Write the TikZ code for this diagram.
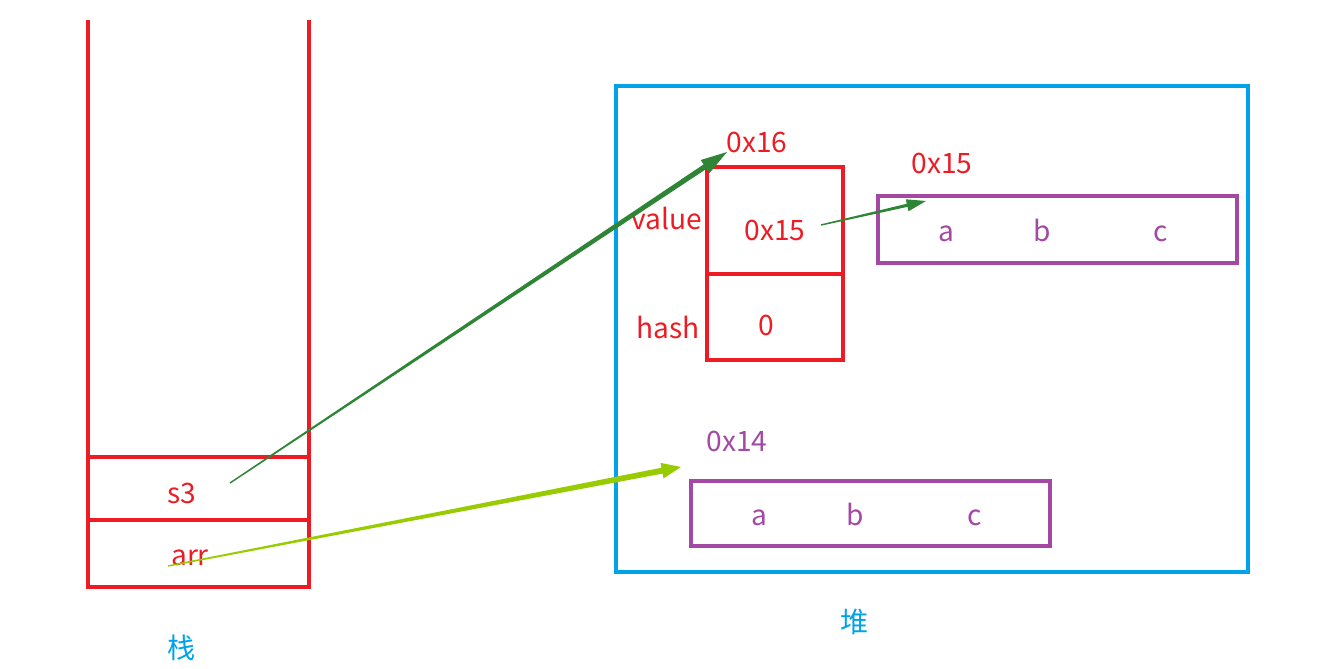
\documentclass[tikz,border=0pt]{standalone}
\usepackage{fontspec}
\setmainfont{Noto Sans CJK SC}
\usetikzlibrary{arrows.meta}
\usetikzlibrary{positioning}
\usetikzlibrary{calc}
\definecolor{stackred}{HTML}{ED1C24}
\definecolor{heapblue}{HTML}{00A2E8}
\definecolor{arrpurple}{HTML}{A349A4}
\definecolor{refgreen}{HTML}{2E8536}
\definecolor{litegreen}{HTML}{99CC00}
\tikzset{
  wall/.style={stackred, line width=2.3pt},
  lbl/.style={font=\fontsize{16}{18}\selectfont, inner sep=0pt, text height=11pt, text depth=3pt, yshift=-1.7pt}
}
% tapered reference arrow: colour, from, to, shaft half width, head length, head half width
\newcommand{\refarrow}[6]{
  \fill [#1] ($(#2)!0.4pt!90:(#3)$) -- ($($(#3)!#5!(#2)$)!#4!90:(#3)$) -- ($($(#3)!#5!(#2)$)!#6!90:(#3)$)
    -- (#3) -- ($($(#3)!#5!(#2)$)!#6!-90:(#3)$) -- ($($(#3)!#5!(#2)$)!#4!-90:(#3)$)
    -- ($(#2)!0.4pt!-90:(#3)$) -- cycle;
}

\begin{document}
\begin{tikzpicture}[x=0.02cm, y=-0.02cm]
			\useasboundingbox (0,0) rectangle (1333,669);
			% stack
			\draw [wall] (88,20) -- (88,587) -- (309,587) -- (309,20);
			\draw [wall] (88,457) -- (309,457);
			\draw [wall] (88,520) -- (309,520);
			\node [lbl, stackred] (s3) at (182,493) {s3};
			\node [lbl, stackred] (arr) at (190,555) {arr};
			\node [lbl, heapblue] (stack) at (182,648) {栈};
			% heap
			\draw [heapblue, line width=2.3pt] (616,86) rectangle (1248,572);
			\node [lbl, heapblue] (heap) at (855,622) {堆};
			% string object
			\draw [wall] (707,167) rectangle (843,360);
			\draw [wall] (707,274) -- (843,274);
			\node [lbl, stackred] (addr16) at (757,142) {0x16};
			\node [lbl, stackred] (value) at (667,219) {value};
			\node [lbl, stackred] (hash) at (668,328) {hash};
			\node [lbl, stackred] (val) at (775,230) {0x15};
			\node [lbl, stackred] (zero) at (766,325) {0};
			% char array 0x15
			\draw [arrpurple, line width=2.3pt] (878,196) rectangle (1237,263);
			\node [lbl, stackred] (addr15) at (942,163) {0x15};
			\node [lbl, arrpurple] (a1) at (946,231) {a};
			\node [lbl, arrpurple] (b1) at (1042,231) {b};
			\node [lbl, arrpurple] (c1) at (1161,231) {c};
			% char array 0x14
			\draw [arrpurple, line width=2.3pt] (691,481) rectangle (1050,546);
			\node [lbl, arrpurple] (addr14) at (737,441) {0x14};
			\node [lbl, arrpurple] (a2) at (759,515) {a};
			\node [lbl, arrpurple] (b2) at (855,515) {b};
			\node [lbl, arrpurple] (c2) at (975,515) {c};
			% references
			\coordinate (s3out) at (230,483);
			\coordinate (arrout) at (168,566);
			\coordinate (valout) at (821,225);
			\coordinate (s3in) at (727,152);
			\coordinate (valin) at (926,201);
			\coordinate (arrin) at (681,467);
			\refarrow{refgreen}{s3out}{s3in}{1.5pt}{15pt}{4.5pt}
			\refarrow{refgreen}{valout}{valin}{0.9pt}{11pt}{3.5pt}
			\refarrow{litegreen}{arrout}{arrin}{1.7pt}{11pt}{4.5pt}
	\end{tikzpicture}
\end{document}
